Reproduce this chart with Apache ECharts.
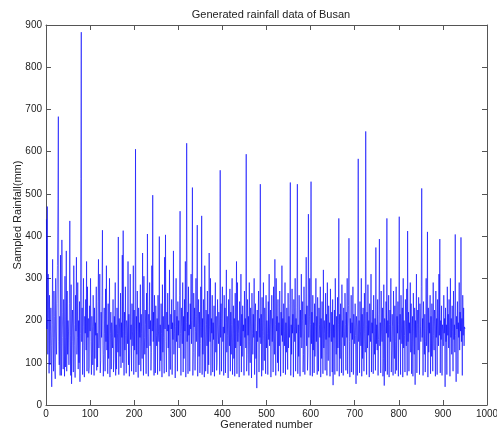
<!DOCTYPE html>
<html>
<head>
<meta charset="utf-8">
<script src="https://cdn.jsdelivr.net/npm/echarts@6/dist/echarts.min.js"></script>
<style>
  html, body { margin: 0; padding: 0; background: #fff; }
  #chart { width: 497px; height: 435px; }
</style>
</head>
<body>
<div id="chart"></div>
<script>
// Sampled rainfall (mm), one value per generated number, in blocks of 50
const rain001 = [440,180,470,120,310,205,75,260,95,175, 230,140,43,190,345,160,80,270,210,88, 62,300,175,120,240,330,490,683,150,95, 210,70,355,135,70,391,220,160,85,250, 185,68,305,90,160,365,80,270,120,200];
const rain051 = [175,95,240,436,165,70,285,50,180,225, 150,78,330,190,140,65,260,175,350,120, 160,290,85,200,100,245,55,170,537,883, 150,230,72,185,300,140,66,210,170,250, 130,340,80,280,160,205,75,90,235,175];
const rain101 = [300,150,72,210,175,95,260,185,70,230, 110,195,165,280,82,170,90,245,345,135, 180,310,76,105,220,160,260,414,140,68, 120,230,170,80,275,150,330,130,190,74, 240,110,185,300,66,170,220,85,195,160];
const rain151 = [135,250,78,110,210,160,290,70,190,85, 230,170,125,398,72,205,180,115,265,88, 195,160,355,100,413,175,70,220,130,280, 165,75,200,180,145,340,95,215,68,135, 310,155,190,80,240,175,140,330,72,225];
const rain201 = [130,185,606,78,210,120,270,175,65,230, 95,195,160,285,80,215,170,110,360,185, 70,305,160,120,225,190,74,265,135,405, 170,68,215,180,290,140,200,82,125,330, 175,497,150,220,70,260,185,76,235,165];
const rain251 = [140,205,72,260,175,150,399,80,190,105, 240,170,66,285,125,210,160,75,350,180, 403,150,78,220,175,265,135,190,68,320, 140,84,215,180,250,72,195,155,365,120, 170,225,64,185,300,150,210,80,245,165];
const rain301 = [200,135,260,459,170,70,230,185,145,290, 78,210,110,250,175,340,66,195,620,150, 220,74,280,165,190,80,240,180,310,145, 200,515,70,125,265,185,230,82,175,300, 150,210,426,68,190,250,115,220,76,145];
const rain351 = [280,160,448,72,205,120,250,180,66,330, 175,80,225,190,140,270,74,215,95,360, 185,150,300,70,205,170,260,78,195,155, 235,68,180,290,125,210,82,100,250,175, 145,220,190,72,556,160,240,80,205,280];
const rain401 = [150,185,70,260,170,230,76,195,320,125, 210,165,64,250,180,140,275,80,220,120, 190,300,72,170,235,110,205,68,265,135, 180,340,74,290,150,200,170,66,245,185, 140,310,78,215,115,235,175,190,70,270];
const rain451 = [160,205,135,594,80,120,250,165,210,70, 290,150,100,230,185,64,265,170,120,215, 160,300,72,195,240,110,175,40,225,150, 190,270,78,205,160,523,145,215,68,255, 175,82,290,165,105,230,185,74,260,135];
const rain501 = [200,170,72,245,155,310,140,190,225,66, 180,260,150,205,78,280,165,120,345,190, 70,300,175,210,100,250,80,195,140,270, 185,68,220,165,330,150,205,76,240,175, 140,290,72,195,125,230,180,84,265,135];
const rain551 = [210,160,240,527,70,190,120,275,170,215, 66,250,185,150,300,80,205,170,230,523, 74,190,115,260,175,68,225,160,310,135, 200,245,78,120,280,180,72,215,190,350, 140,235,82,125,452,160,210,300,70,190];
const rain601 = [529,145,220,68,260,130,195,76,240,115, 185,300,150,210,72,255,175,80,230,190, 160,280,66,205,110,245,180,74,320,135, 200,170,82,265,155,215,70,290,175,105, 235,160,195,68,275,185,150,220,78,250];
const rain651 = [47,190,160,225,72,300,175,120,210,80, 255,135,190,442,68,215,110,240,180,76, 285,160,200,70,230,175,140,265,190,82, 220,160,300,74,185,235,395,150,66,205, 170,260,78,195,155,280,72,215,180,145];
const rain701 = [240,165,50,210,185,70,270,583,150,200, 76,245,175,140,300,68,215,110,230,185, 80,265,170,125,648,190,72,220,135,285, 165,200,66,240,180,150,310,78,195,170, 225,74,260,175,120,205,82,373,145,190];
const rain751 = [130,250,70,155,215,393,140,195,76,270, 175,150,230,68,110,285,46,205,180,80, 245,170,442,72,200,160,260,66,190,225, 150,300,78,130,215,185,70,270,160,110, 235,74,150,280,82,210,170,245,68,190];
const rain801 = [446,155,215,72,260,180,145,230,66,300, 135,200,165,78,250,185,140,275,70,412, 150,220,80,195,170,290,125,240,74,150, 210,68,265,175,120,230,48,200,160,310, 76,190,225,130,255,170,72,240,185,150];
const rain851 = [280,513,160,205,70,245,175,120,215,78, 150,300,140,185,410,66,230,125,195,170, 260,74,210,115,240,180,80,290,165,130, 225,185,68,270,160,205,72,250,175,140, 310,165,393,76,200,155,235,70,190,175];
const rain901 = [140,260,170,205,43,230,150,190,72,280, 165,215,135,250,180,68,300,160,205,120, 235,175,80,270,155,190,125,404,165,55, 210,180,245,74,195,160,290,130,220,175, 397,150,205,70,260,165,230,140,185,180];

const rainfall = [].concat(rain001, rain051, rain101, rain151, rain201, rain251, rain301,
  rain351, rain401, rain451, rain501, rain551, rain601, rain651, rain701, rain751,
  rain801, rain851, rain901);

// Axis ranges and tick spacing
const xRange = [0, 1000], xStep = 100;
const yRange = [0, 900], yStep = 100;

const points = rainfall.map((v, i) => [i + 1, v]);

const font = 'Liberation Sans, Arial, sans-serif';
const frame = '#555';
const textColor = '#222';
const tick = { show: true, inside: true, length: 5, lineStyle: { color: frame } };

const chart = echarts.init(document.getElementById('chart'), null, { renderer: 'canvas' });
chart.setOption({
  animation: false,
  backgroundColor: '#fff',
  title: {
    text: 'Generated rainfall data of Busan',
    left: 266, top: 4, textAlign: 'center',
    textStyle: { fontFamily: font, fontSize: 11, fontWeight: 'normal', color: textColor }
  },
  grid: { left: 46, right: 10, top: 25, bottom: 30, containLabel: false, outerBoundsMode: 'none' },
  xAxis: [{
    type: 'value', min: xRange[0], max: xRange[1], interval: xStep,
    position: 'bottom',
    name: 'Generated number', nameLocation: 'middle', nameGap: 14, nameMoveOverlap: false,
    nameTextStyle: { fontFamily: font, fontSize: 11, color: textColor, verticalAlign: 'top' },
    axisLine: { show: true, onZero: false, lineStyle: { color: frame } },
    axisTick: tick,
    axisLabel: { fontFamily: font, fontSize: 10, color: textColor, margin: 4,
      formatter: v => String(v) },
    splitLine: { show: false }
  }, {
    type: 'value', min: xRange[0], max: xRange[1], interval: xStep,
    position: 'top',
    axisLine: { show: true, onZero: false, lineStyle: { color: frame } },
    axisTick: tick, axisLabel: { show: false }, splitLine: { show: false }
  }],
  yAxis: [{
    type: 'value', min: yRange[0], max: yRange[1], interval: yStep,
    position: 'left',
    name: 'Sampled Rainfall(mm)', nameLocation: 'middle', nameGap: 23, nameRotate: 90,
    nameMoveOverlap: false,
    nameTextStyle: { fontFamily: font, fontSize: 11, color: textColor, verticalAlign: 'bottom' },
    axisLine: { show: true, onZero: false, lineStyle: { color: frame } },
    axisTick: tick,
    axisLabel: { fontFamily: font, fontSize: 10, color: textColor, margin: 4 },
    splitLine: { show: false }
  }, {
    type: 'value', min: yRange[0], max: yRange[1], interval: yStep,
    position: 'right',
    axisLine: { show: true, onZero: false, lineStyle: { color: frame } },
    axisTick: tick, axisLabel: { show: false }, splitLine: { show: false }
  }],
  series: [{
    type: 'line',
    data: points,
    xAxisIndex: 0, yAxisIndex: 0,
    showSymbol: false,
    silent: true,
    lineStyle: { color: '#0000ff', width: 0.6 }
  }]
});
</script>
</body>
</html>
